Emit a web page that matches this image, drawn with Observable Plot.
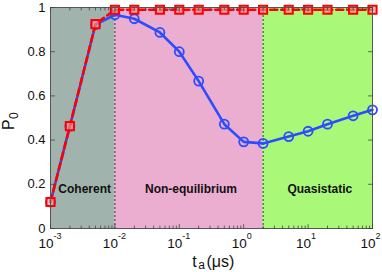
<!DOCTYPE html>
<html><head><meta charset="utf-8">
<script src="https://cdn.jsdelivr.net/npm/d3@7"></script>
<script src="https://cdn.jsdelivr.net/npm/@observablehq/plot@0.6"></script>
<style>body{margin:0;background:#fff}</style>
</head><body><div id="chart"></div>
<script>
const ta = [0.001, 0.002, 0.005, 0.01, 0.02, 0.05, 0.1, 0.2, 0.5, 1, 2, 5, 10, 20, 50, 100];
const blueP = [0.12, 0.463, 0.923, 0.967, 0.949, 0.887, 0.80, 0.667, 0.472, 0.392, 0.385, 0.416, 0.44, 0.472, 0.51, 0.537];
const redP = [0.12, 0.463, 0.925, 0.99, 0.99, 0.99, 0.99, 0.99, 0.99, 0.99, 0.99, 0.99, 0.99, 0.99, 0.99, 0.99];
const regionNames = ["Coherent", "Non-equilibrium", "Quasistatic"];
const regionStart = [0.001, 0.01, 2];
const regionEnd = [0.01, 2, 100];
const regionColors = ["#a1b3ad", "#ebaed0", "#a9f878"];
const boundaries = [0.01, 2];
const xMajor = [0.001, 0.01, 0.1, 1, 10, 100];
const xExp = ["-3", "-2", "-1", "0", "1", "2"];
const yTicks = [0, 0.2, 0.4, 0.6, 0.8, 1];

const xMinor = [];
for (const m of xMajor.slice(0, -1)) for (let k = 2; k <= 9; k++) xMinor.push(m * k);

const data = ta.map((t, i) => ({t, blue: blueP[i], red: redP[i]}));
const regions = regionNames.map((n, i) => ({name: n, x1: regionStart[i], x2: regionEnd[i], fill: regionColors[i], mid: Math.sqrt(regionStart[i] * regionEnd[i])}));

const line = {draw(ctx, l) { ctx.moveTo(0, 0); ctx.lineTo(0, -l); }};
const font = "Liberation Sans, Arial, Helvetica, sans-serif";
const blue = "#2d4cff", red = "#ff0000";

const chart = Plot.plot({
  width: 382, height: 272,
  marginLeft: 50, marginRight: 10, marginTop: 7, marginBottom: 44,
  style: {fontFamily: font, background: "white"},
  x: {type: "log", domain: [0.001, 100], axis: null},
  y: {domain: [0, 1], axis: null},
  marks: [
    Plot.rect(regions, {x1: "x1", x2: "x2", y1: 0, y2: 1, fill: "fill"}),
    Plot.ruleX(boundaries, {stroke: "#222", strokeWidth: 0.9, strokeDasharray: "2,2"}),
    Plot.text(regions, {x: "mid", y: 0.176, text: "name", fontWeight: "bold", fontSize: 12, dx: 2, fill: "#111", lineAnchor: "middle"}),
    Plot.line(data, {x: "t", y: "blue", stroke: blue, strokeWidth: 2.6}),
    Plot.dot(data, {x: "t", y: "blue", r: 4.5, stroke: blue, strokeWidth: 1.8, fill: "none"}),
    Plot.line(data, {x: "t", y: "red", stroke: red, strokeWidth: 2.6, strokeDasharray: "7,4"}),
    Plot.dot(data, {x: "t", y: "red", symbol: "square", r: 4.6, stroke: red, strokeWidth: 2, fill: "#ff9a9a", fillOpacity: 0.6}),
    Plot.frame({stroke: "#555", strokeWidth: 1}),
    // inward ticks
    Plot.vector(yTicks, {y: d => d, frameAnchor: "left", rotate: 90, length: 4, anchor: "start", shape: line, stroke: "#444", strokeWidth: 0.8}),
    Plot.vector(yTicks, {y: d => d, frameAnchor: "right", rotate: -90, length: 4, anchor: "start", shape: line, stroke: "#444", strokeWidth: 0.8}),
    Plot.vector(xMajor, {x: d => d, frameAnchor: "bottom", rotate: 0, length: 4, anchor: "start", shape: line, stroke: "#444", strokeWidth: 0.8}),
    Plot.vector(xMajor, {x: d => d, frameAnchor: "top", rotate: 180, length: 4, anchor: "start", shape: line, stroke: "#444", strokeWidth: 0.8}),
    Plot.vector(xMinor, {x: d => d, frameAnchor: "bottom", rotate: 0, length: 2.5, anchor: "start", shape: line, stroke: "#444", strokeWidth: 0.8}),
    Plot.vector(xMinor, {x: d => d, frameAnchor: "top", rotate: 180, length: 2.5, anchor: "start", shape: line, stroke: "#444", strokeWidth: 0.8}),
    // tick labels
    Plot.text(yTicks, {y: d => d, frameAnchor: "left", text: d => String(d), textAnchor: "end", dx: -5, fontSize: 13, fill: "#111"}),
    Plot.text(xMajor, {x: d => d, frameAnchor: "bottom", text: () => "10", textAnchor: "end", dx: 3, dy: 15, lineAnchor: "middle", fontSize: 13.5, fill: "#111"}),
    Plot.text(xMajor, {x: d => d, frameAnchor: "bottom", text: (d, i) => xExp[i], textAnchor: "start", dx: 3, dy: 8, lineAnchor: "middle", fontSize: 9, fill: "#111"}),
    // axis labels
    Plot.text(["t"], {frameAnchor: "bottom", text: d => d, dx: -17, dy: 33, lineAnchor: "middle", fontSize: 16, fill: "#111"}),
    Plot.text(["a"], {frameAnchor: "bottom", text: d => d, dx: -10, dy: 37, lineAnchor: "middle", fontSize: 12, fill: "#111"}),
    Plot.text(["(μs)"], {frameAnchor: "bottom", text: d => d, textAnchor: "start", dx: -5, dy: 33, lineAnchor: "middle", fontSize: 16, fill: "#111"}),
    Plot.text(["P"], {frameAnchor: "left", text: d => d, rotate: -90, dx: -42, dy: 12, lineAnchor: "middle", fontSize: 16, fill: "#111"}),
    Plot.text(["0"], {frameAnchor: "left", text: d => d, rotate: -90, dx: -36, dy: 1, lineAnchor: "middle", fontSize: 12, fill: "#111"})
  ]
});
document.getElementById("chart").appendChild(chart);
</script></body></html>
